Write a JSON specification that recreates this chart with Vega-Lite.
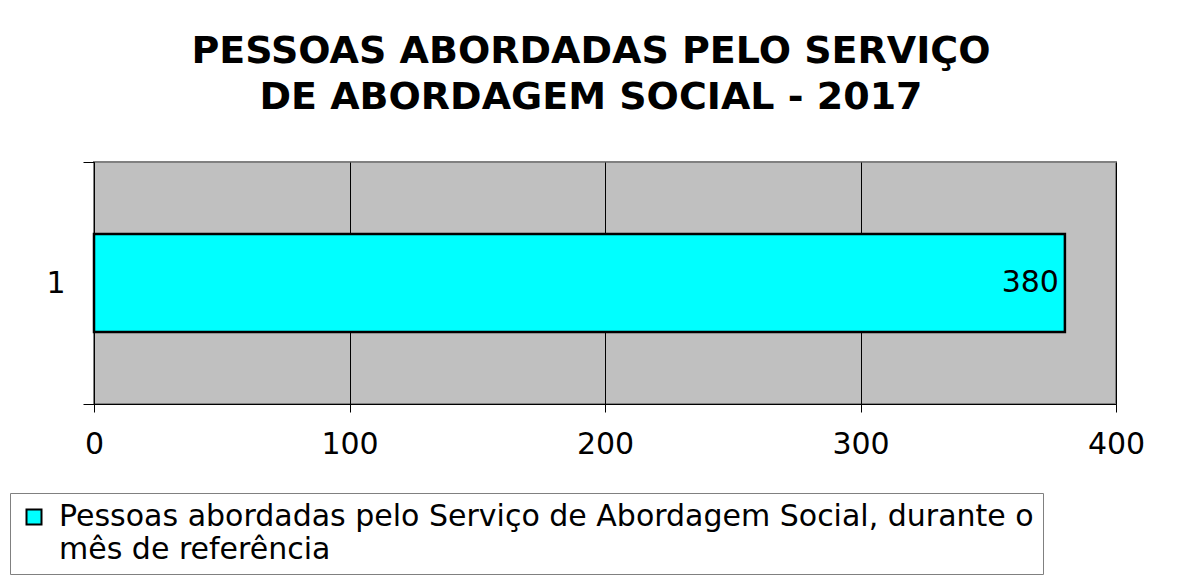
{
  "$schema": "https://vega.github.io/schema/vega-lite/v6.json",
  "width": 1022,
  "height": 242,
  "autosize": {"type": "none"},
  "padding": {"left": 94, "top": 162, "right": 62, "bottom": 174},
  "background": "white",
  "title": {
    "text": ["PESSOAS ABORDADAS PELO SERVIÇO", "DE ABORDAGEM SOCIAL - 2017"],
    "anchor": "middle",
    "frame": "group",
    "dx": -14,
    "offset": 30,
    "font": "DejaVu Sans",
    "fontSize": 38,
    "fontWeight": "bold",
    "color": "black",
    "lineHeight": 46
  },
  "config": {
    "view": {"fill": "#C0C0C0", "stroke": "#808080", "strokeWidth": 2},
    "font": "DejaVu Sans",
    "style": {"guide-label": {"lineHeight": 33}}
  },
  "data": {
    "values": [
      {"categoria": "1", "valor": 380, "serie": "Pessoas abordadas pelo Serviço de Abordagem Social, durante o mês de referência"}
    ]
  },
  "encoding": {
    "y": {
      "field": "categoria",
      "type": "nominal",
      "scale": {"paddingInner": 0, "paddingOuter": 0},
      "axis": {
        "title": null,
        "tickBand": "extent",
        "domainColor": "black",
        "tickColor": "black",
        "tickSize": 11,
        "labelFontSize": 30,
        "labelColor": "black",
        "labelPadding": 18,
        "labelAngle": 0,
        "grid": false
      }
    },
    "x": {
      "field": "valor",
      "type": "quantitative",
      "scale": {"domain": [0, 400], "nice": false},
      "axis": {
        "title": null,
        "values": [0, 100, 200, 300, 400],
        "grid": true,
        "gridColor": "black",
        "gridOpacity": 1,
        "gridWidth": 1,
        "domainColor": "black",
        "tickColor": "black",
        "tickSize": 8,
        "labelFontSize": 30,
        "labelColor": "black",
        "labelPadding": 17,
        "labelFlush": false
      }
    }
  },
  "layer": [
    {
      "mark": {"type": "bar", "fill": "#00FFFF", "stroke": "black", "strokeWidth": 2.5, "height": {"band": 0.405}},
      "encoding": {
        "color": {
          "field": "serie",
          "type": "nominal",
          "scale": {"range": ["#00FFFF"]},
          "legend": {
            "title": null,
            "orient": "none",
            "legendX": -84,
            "legendY": 331,
            "direction": "vertical",
            "symbolType": "square",
            "symbolSize": 225,
            "symbolFillColor": "#00FFFF",
            "symbolStrokeColor": "black",
            "symbolStrokeWidth": 2,
            "labelFontSize": 30,
            "labelColor": "black",
            "labelLimit": 0,
            "labelBaseline": "middle",
            "labelOffset": 10,
            "labelExpr": "[substring(datum.label, 0, 61), substring(datum.label, 62)]",
            "strokeColor": "#808080",
            "padding": 9
          }
        }
      }
    },
    {
      "mark": {"type": "text", "align": "right", "baseline": "middle", "dx": -6, "fontSize": 30, "color": "black"},
      "encoding": {"text": {"field": "valor", "type": "quantitative"}}
    }
  ]
}
